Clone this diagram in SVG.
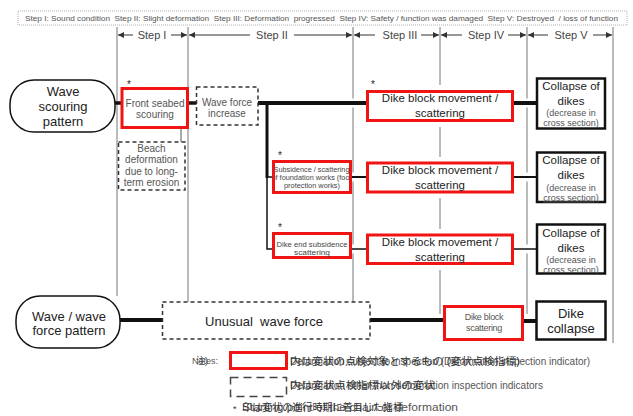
<svg xmlns="http://www.w3.org/2000/svg" width="633" height="416" viewBox="0 0 633 416">
<defs>
<marker id="ah" viewBox="0 0 10 10" refX="10" refY="5" markerWidth="6" markerHeight="6" orient="auto" markerUnits="userSpaceOnUse">
<path d="M0,0 L10,5 L0,10 z" fill="#333"/>
</marker>
<clipPath id="clipSub"><rect x="274.5" y="162.5" width="75" height="29"/></clipPath>
</defs>
<style>
text{font-family:"Liberation Sans",Arial,sans-serif}
.jp{font-family:"Liberation Sans","Noto Sans CJK JP",sans-serif}
.grid{stroke:#777;stroke-width:1;fill:none}
.red{fill:#fff;stroke:#f01414;stroke-width:3}
.dash{fill:#fff;stroke:#333;stroke-width:1.5;stroke-dasharray:4 3}
.blk{fill:#fff;stroke:#111;stroke-width:2.5}
.pill{fill:#fff;stroke:#111;stroke-width:1.5}
.c{stroke:#111;fill:none}
.halo{stroke:#fff;stroke-width:9;fill:none}
.sarr{stroke:#333;stroke-width:1;fill:none}
.step{font-size:11px;fill:#444;text-anchor:middle}
.big{font-size:13px;fill:#222;text-anchor:middle}
.mid{font-size:11.5px;fill:#222;text-anchor:middle}
.sm{font-size:10px;fill:#555;text-anchor:middle}
.xs{font-size:9px;fill:#555;text-anchor:middle}
.tiny{font-size:7.2px;fill:#444;text-anchor:middle}
.ast{font-size:10px;fill:#222;text-anchor:middle}
.leg{font-size:10px;fill:#555}
.legj{font-size:10px;fill:#333}
</style>

<!-- step legend -->
<g id="steps-legend">
<rect x="18" y="11" width="609" height="14" fill="none" stroke="#999" stroke-width="0.8" stroke-dasharray="1 1"/>
<text x="25" y="20.5" font-size="7.5" fill="#555" textLength="593" lengthAdjust="spacingAndGlyphs" xml:space="preserve">Step I: Sound condition  Step II: Slight deformation  Step III: Deformation  progressed  Step IV: Safety / function was damaged  Step V: Destroyed  / loss of function</text>
</g>

<!-- grid -->
<g id="grid">
<line class="grid" x1="117" y1="27" x2="117" y2="296"/>
<line class="grid" x1="188" y1="27" x2="188" y2="302"/>
<line class="grid" x1="353" y1="27" x2="353" y2="302"/>
<line class="grid" x1="440" y1="27" x2="440" y2="314"/>
<line class="grid" x1="527" y1="27" x2="527" y2="314"/>
<line class="grid" x1="613" y1="27" x2="613" y2="343"/>
</g>

<g id="step-header">
<line class="sarr" x1="133" y1="35" x2="118" y2="35" marker-end="url(#ah)"/>
<line class="sarr" x1="171" y1="35" x2="187" y2="35" marker-end="url(#ah)"/>
<text class="step" x="152" y="39">Step I</text>
<line class="sarr" x1="250" y1="35" x2="189" y2="35" marker-end="url(#ah)"/>
<line class="sarr" x1="294" y1="35" x2="352" y2="35" marker-end="url(#ah)"/>
<text class="step" x="272" y="39">Step II</text>
<line class="sarr" x1="375" y1="35" x2="354" y2="35" marker-end="url(#ah)"/>
<line class="sarr" x1="421" y1="35" x2="439" y2="35" marker-end="url(#ah)"/>
<text class="step" x="400" y="39">Step III</text>
<line class="sarr" x1="462" y1="35" x2="441" y2="35" marker-end="url(#ah)"/>
<line class="sarr" x1="508" y1="35" x2="526" y2="35" marker-end="url(#ah)"/>
<text class="step" x="486" y="39">Step IV</text>
<line class="sarr" x1="548" y1="35" x2="528" y2="35" marker-end="url(#ah)"/>
<line class="sarr" x1="593" y1="35" x2="612" y2="35" marker-end="url(#ah)"/>
<text class="step" x="571" y="39">Step V</text>
</g>

<!-- connectors -->
<g id="connectors">
<path class="halo" d="M258,103 H367 M513,103 H537 M351,177 H367 M513,177 H537 M351,249 H367 M513,249 H537"/>
<path class="c" stroke-width="3.5" d="M115,103 H122 M187,103 H197"/>
<path class="c" stroke-width="4" d="M258,103 H368 M512,103 H538"/>
<path class="c" stroke-width="3" d="M267,101 V178"/>
<path class="c" stroke-width="1.5" d="M267,177 H274 M267,177 V249 H274"/>
<path stroke="#555" stroke-width="1" fill="none" d="M181,128 V142"/>
<path class="c" stroke-width="2" d="M351,177 H367 M513,177 H537"/>
<path class="c" stroke-width="1.5" d="M351,249 H367 M513,249 H537"/>
<path class="c" stroke-width="4" d="M120,320 H163 M369,320 H445 M522,321 H537"/>
</g>

<!-- row 1 -->
<g id="wave-scouring-pattern">
<rect class="pill" x="10" y="80" width="105" height="52" rx="24"/>
<text class="big" x="63" y="95.5">Wave</text>
<text class="big" x="63" y="110.5">scouring</text>
<text class="big" x="63" y="126">pattern</text>
</g>
<g id="front-seabed-scouring">
<rect class="red" x="122" y="88.5" width="65.5" height="39"/>
<text class="sm" x="155" y="106.5">Front seabed</text>
<text class="sm" x="155" y="117.5">scouring</text>
<text class="ast" x="129" y="88">*</text>
</g>
<g id="beach-deformation">
<rect class="dash" x="118.5" y="142" width="66.5" height="48"/>
<text class="sm" x="151.5" y="151.5">Beach</text>
<text class="sm" x="151.5" y="163">deformation</text>
<text class="sm" x="151.5" y="174.5">due to long-</text>
<text class="sm" x="151.5" y="186">term erosion</text>
</g>
<g id="wave-force-increase">
<rect class="dash" x="196.5" y="87" width="61.5" height="38"/>
<text class="sm" x="227" y="105.5">Wave force</text>
<text class="sm" x="227" y="116.5">increase</text>
</g>
<g id="dike-block-1">
<rect fill="#fff" x="366" y="85" width="148" height="42"/>
<rect class="red" x="367.5" y="91.5" width="145" height="29"/>
<text class="mid" x="440" y="102">Dike block movement /</text>
<text class="mid" x="440" y="117">scattering</text>
<text class="ast" x="373" y="88">*</text>
</g>
<g id="collapse-1">
<rect class="blk" x="537" y="78.5" width="68" height="50"/>
<text class="mid" x="571" y="89.5" font-size="12">Collapse of</text>
<text class="mid" x="571" y="104.5" font-size="12">dikes</text>
<text class="xs" x="571" y="116">(decrease in</text>
<text class="xs" x="571" y="126" text-decoration="underline">cross section)</text>
</g>

<!-- row 2 -->
<g id="subsidence-foundation">
<rect class="red" x="273.5" y="161.5" width="77" height="31"/>
<g clip-path="url(#clipSub)">
<text class="tiny" x="311.5" y="171.5" textLength="76" lengthAdjust="spacingAndGlyphs">Subsidence / scattering</text>
<text class="tiny" x="311.5" y="179.5" textLength="80" lengthAdjust="spacingAndGlyphs">of foundation works (foot</text>
<text class="tiny" x="312" y="187.5" textLength="56" lengthAdjust="spacingAndGlyphs">protection works)</text>
</g>
<text class="ast" x="280" y="159">*</text>
</g>
<g id="dike-block-2">
<rect fill="#fff" x="366" y="157" width="148" height="41"/>
<rect class="red" x="367.5" y="163" width="145" height="29"/>
<text class="mid" x="440" y="173.5">Dike block movement /</text>
<text class="mid" x="440" y="189">scattering</text>
</g>
<g id="collapse-2">
<rect class="blk" x="537" y="152.5" width="68" height="49.5"/>
<text class="mid" x="571" y="164" font-size="12">Collapse of</text>
<text class="mid" x="571" y="179" font-size="12">dikes</text>
<text class="xs" x="571" y="190.5">(decrease in</text>
<text class="xs" x="571" y="200.5" text-decoration="underline">cross section)</text>
</g>

<!-- row 3 -->
<g id="dike-end-subsidence">
<rect class="red" x="273.5" y="233.5" width="77" height="24"/>
<text class="tiny" x="312" y="246.5" font-size="7.6" textLength="71" lengthAdjust="spacingAndGlyphs">Dike end subsidence</text>
<text class="tiny" x="312" y="255" font-size="7.6" textLength="36" lengthAdjust="spacingAndGlyphs">scattering</text>
<text class="ast" x="280" y="231">*</text>
</g>
<g id="dike-block-3">
<rect fill="#fff" x="366" y="229" width="148" height="41"/>
<rect class="red" x="367.5" y="235" width="145" height="28.5"/>
<text class="mid" x="440" y="246">Dike block movement /</text>
<text class="mid" x="440" y="261">scattering</text>
</g>
<g id="collapse-3">
<rect class="blk" x="537" y="224.5" width="68" height="49"/>
<text class="mid" x="571" y="236.5" font-size="12">Collapse of</text>
<text class="mid" x="571" y="251.5" font-size="12">dikes</text>
<text class="xs" x="571" y="263">(decrease in</text>
<text class="xs" x="571" y="273" text-decoration="underline">cross section)</text>
</g>

<!-- bottom row -->
<g id="wave-force-pattern">
<rect class="pill" x="16" y="296" width="104" height="52" rx="24"/>
<text class="big" x="69" y="320.5">Wave / wave</text>
<text class="big" x="69" y="334.5">force pattern</text>
</g>
<g id="unusual-wave-force">
<rect class="dash" x="162.5" y="302" width="207.5" height="37"/>
<text class="big" x="264" y="326" xml:space="preserve">Unusual  wave force</text>
</g>
<g id="dike-block-scattering">
<rect class="red" x="444.5" y="306.5" width="78" height="33"/>
<text class="xs" x="484" y="320" letter-spacing="-0.3">Dike block</text>
<text class="xs" x="484" y="331" letter-spacing="-0.3">scattering</text>
</g>
<g id="dike-collapse">
<rect class="blk" x="536.5" y="301.5" width="69" height="38"/>
<text class="big" x="571" y="317.5">Dike</text>
<text class="big" x="571" y="332.5">collapse</text>
</g>

<!-- legend -->
<g id="legend">
<text x="192" y="364" font-size="9" fill="#555">Notes:</text>
<text class="jp" x="196" y="364" font-size="9" fill="#444">注)</text>
<rect class="red" x="230.5" y="352.5" width="56" height="16"/>
<text class="leg" x="290" y="364.5">Deformation subject to inspection (Deformation inspection indicator)</text>
<text class="jp legj" x="290" y="364.5" textLength="230" lengthAdjust="spacingAndGlyphs">内は変状の点検対象とするもの (変状点検指標)</text>
<rect x="230.5" y="377.5" width="56" height="19" fill="none" stroke="#444" stroke-width="1.5" stroke-dasharray="8 5"/>
<text class="leg" x="290" y="388.5" textLength="253" lengthAdjust="spacingAndGlyphs">Deformation other than deformation inspection indicators</text>
<text class="jp legj" x="290" y="388.5" textLength="145" lengthAdjust="spacingAndGlyphs">内は変状点検指標以外の変状</text>
<text x="233" y="412" font-size="9" fill="#333">*</text>
<text class="leg" x="242" y="411" textLength="216" lengthAdjust="spacingAndGlyphs">Starting point of the chain of deformation</text>
<text class="jp legj" x="242" y="411" textLength="161" lengthAdjust="spacingAndGlyphs">印は変状の進行時期に着目した指標</text>
</g>
</svg>
